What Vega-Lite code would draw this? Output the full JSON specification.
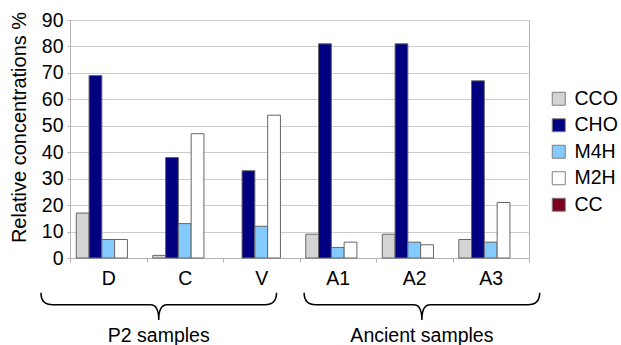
{
  "$schema": "https://vega.github.io/schema/vega-lite/v6.json",
  "width": 459,
  "height": 238,
  "autosize": {"type": "none"},
  "padding": {"left": 70, "top": 20, "right": 92, "bottom": 87},
  "background": "white",
  "config": {
    "font": "Liberation Sans",
    "view": {"stroke": "#b3b3b3", "strokeWidth": 1},
    "legend": {
      "orient": "none",
      "legendX": 479,
      "legendY": 69,
      "padding": 0,
      "labelFontSize": 19.5,
      "labelColor": "black",
      "labelFont": "Liberation Sans",
      "symbolType": "square",
      "symbolSize": 169,
      "symbolStrokeColor": "#7f7f7f",
      "symbolStrokeWidth": 1,
      "labelOffset": 6,
      "rowPadding": 5.5
    }
  },
  "resolve": {"scale": {"x": "independent", "y": "independent"}},
  "layer": [
    {
      "data": {
        "values": [
          {"sample": "D", "series": "CCO", "value": 17},
          {"sample": "D", "series": "CHO", "value": 69},
          {"sample": "D", "series": "M4H", "value": 7},
          {"sample": "D", "series": "M2H", "value": 7},
          {"sample": "D", "series": "CC", "value": 0},
          {"sample": "C", "series": "CCO", "value": 1},
          {"sample": "C", "series": "CHO", "value": 38},
          {"sample": "C", "series": "M4H", "value": 13},
          {"sample": "C", "series": "M2H", "value": 47},
          {"sample": "C", "series": "CC", "value": 0},
          {"sample": "V", "series": "CCO", "value": 0},
          {"sample": "V", "series": "CHO", "value": 33},
          {"sample": "V", "series": "M4H", "value": 12},
          {"sample": "V", "series": "M2H", "value": 54},
          {"sample": "V", "series": "CC", "value": 0},
          {"sample": "A1", "series": "CCO", "value": 9},
          {"sample": "A1", "series": "CHO", "value": 81},
          {"sample": "A1", "series": "M4H", "value": 4},
          {"sample": "A1", "series": "M2H", "value": 6},
          {"sample": "A1", "series": "CC", "value": 0},
          {"sample": "A2", "series": "CCO", "value": 9},
          {"sample": "A2", "series": "CHO", "value": 81},
          {"sample": "A2", "series": "M4H", "value": 6},
          {"sample": "A2", "series": "M2H", "value": 5},
          {"sample": "A2", "series": "CC", "value": 0},
          {"sample": "A3", "series": "CCO", "value": 7},
          {"sample": "A3", "series": "CHO", "value": 67},
          {"sample": "A3", "series": "M4H", "value": 6},
          {"sample": "A3", "series": "M2H", "value": 21},
          {"sample": "A3", "series": "CC", "value": 0}
        ]
      },
      "transform": [{"filter": "datum.value > 0"}],
      "mark": {"type": "bar", "stroke": "#666666", "strokeWidth": 1},
      "encoding": {
        "x": {
          "field": "sample",
          "type": "nominal",
          "sort": ["D", "C", "V", "A1", "A2", "A3"],
          "scale": {"domain": ["D", "C", "V", "A1", "A2", "A3"], "paddingInner": 0, "paddingOuter": 0},
          "axis": {
            "title": null,
            "labelAngle": 0,
            "labelFontSize": 19.5,
            "labelColor": "black",
            "labelPadding": 7,
            "tickBand": "extent",
            "tickSize": 4,
            "tickColor": "#b3b3b3",
            "domainColor": "#b3b3b3"
          }
        },
        "xOffset": {
          "field": "series",
          "type": "nominal",
          "scale": {"domain": ["CCO", "CHO", "M4H", "M2H", "CC"], "paddingInner": 0, "paddingOuter": 0.49}
        },
        "y": {
          "field": "value",
          "type": "quantitative",
          "scale": {"domain": [0, 90], "nice": false},
          "axis": {
            "values": [0, 10, 20, 30, 40, 50, 60, 70, 80, 90],
            "title": "Relative concentrations %",
            "titleFontSize": 20,
            "titleFontWeight": "normal",
            "titleColor": "black",
            "titleX": -45,
            "titleY": 107,
            "titleBaseline": "alphabetic",
            "labelFontSize": 19.5,
            "labelColor": "black",
            "labelPadding": 4,
            "tickSize": 3,
            "tickColor": "#b3b3b3",
            "domainColor": "#b3b3b3",
            "gridColor": "#cccccc",
            "gridWidth": 1
          }
        },
        "fill": {
          "field": "series",
          "type": "nominal",
          "scale": {
            "domain": ["CCO", "CHO", "M4H", "M2H", "CC"],
            "range": ["#d4d4d4", "#000080", "#83caff", "#ffffff", "#7e0021"]
          },
          "legend": {"title": null}
        }
      }
    },
    {
      "data": {
        "values": [
          {"group": "P2 samples", "center": 1.16},
          {"group": "Ancient samples", "center": 4.6}
        ]
      },
      "layer": [
        {
          "mark": {
            "type": "point",
            "shape": "M -1 -0.115 Q -1 -0.013 -0.9 -0.013 L -0.07 -0.013 Q 0 -0.013 0 0.115 Q 0 -0.013 0.07 -0.013 L 0.9 -0.013 Q 1 -0.013 1 -0.115",
            "filled": false,
            "stroke": "black",
            "strokeWidth": 1.5,
            "size": 55500,
            "opacity": 1
          },
          "encoding": {
            "x": {"field": "center", "type": "quantitative", "scale": {"domain": [0, 6], "nice": false, "zero": false}, "axis": null},
            "y": {"datum": -18.3, "type": "quantitative", "scale": {"domain": [0, 90], "nice": false}, "axis": null}
          }
        },
        {
          "mark": {"type": "text", "fontSize": 19.5, "baseline": "alphabetic", "color": "black", "font": "Liberation Sans"},
          "encoding": {
            "x": {"field": "center", "type": "quantitative", "scale": {"domain": [0, 6], "nice": false, "zero": false}, "axis": null},
            "y": {"datum": -31.7, "type": "quantitative", "scale": {"domain": [0, 90], "nice": false}, "axis": null},
            "text": {"field": "group"}
          }
        }
      ]
    }
  ]
}
